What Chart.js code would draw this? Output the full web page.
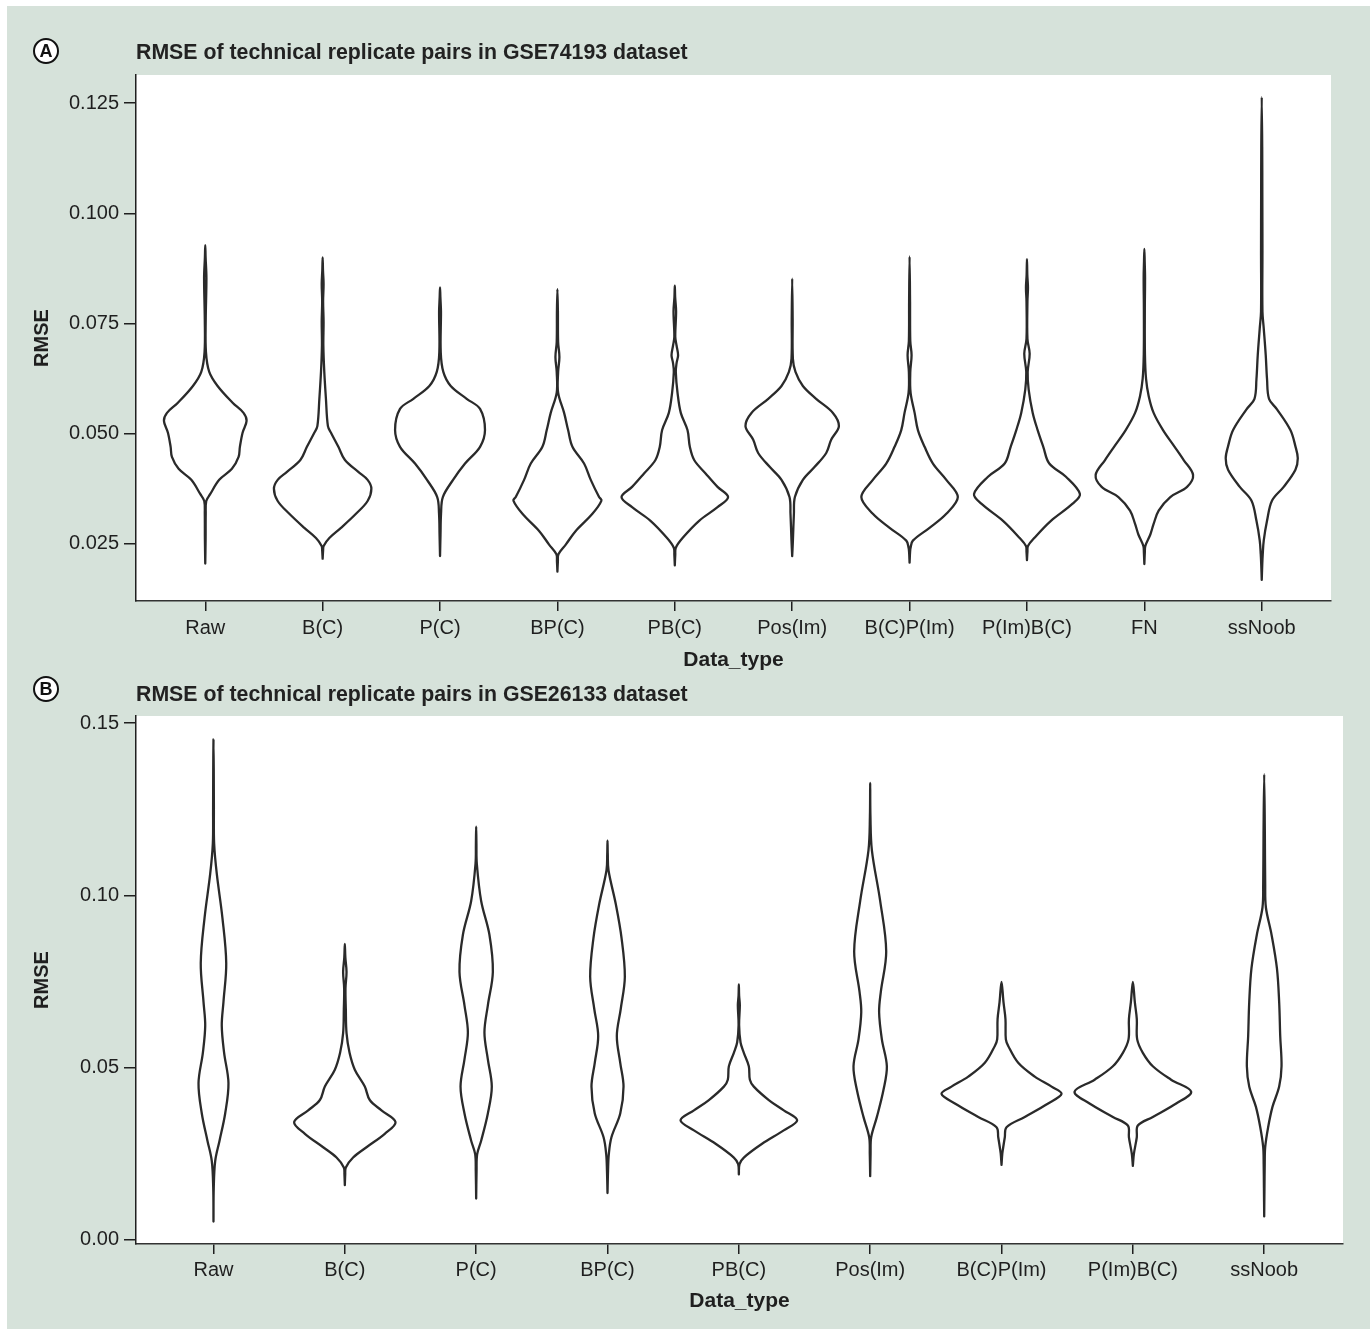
<!DOCTYPE html>
<html>
<head>
<meta charset="utf-8">
<script src="https://cdn.jsdelivr.net/npm/chart.js@4.4.1/dist/chart.umd.min.js"></script>
<style>
  body { margin:0; background:#ffffff; width:1370px; height:1329px; position:relative; overflow:hidden; }
  #bg { position:absolute; left:7px; top:6px; width:1363px; height:1323px; background:#d6e2da; }
  canvas { position:absolute; left:0; }
  .tag { position:absolute; box-sizing:border-box; width:26px; height:26px; border:2px solid #111; border-radius:50%;
         background:#fff; font:bold 18px "Liberation Sans", Arial, sans-serif; line-height:22px; text-align:center; color:#111; }
  .title { position:absolute; font:bold 21.3px "Liberation Sans", Arial, sans-serif; line-height:24px; color:#222; white-space:nowrap; }
</style>
</head>
<body>
<div id="bg"></div>
<canvas id="cA" width="1370" height="680" style="top:0px"></canvas>
<canvas id="cB" width="1370" height="649" style="top:680px"></canvas>
<div class="tag" style="left:33px;top:38px">A</div>
<div class="title" style="left:136px;top:40px">RMSE of technical replicate pairs in GSE74193 dataset</div>
<div class="tag" style="left:33px;top:676px">B</div>
<div class="title" style="left:136px;top:682px">RMSE of technical replicate pairs in GSE26133 dataset</div>
<script>
// ---------- DATA ----------
// Categories and tick labels
const catsA = ['Raw','B(C)','P(C)','BP(C)','PB(C)','Pos(Im)','B(C)P(Im)','P(Im)B(C)','FN','ssNoob'];
const catsB = ['Raw','B(C)','P(C)','BP(C)','PB(C)','Pos(Im)','B(C)P(Im)','P(Im)B(C)','ssNoob'];
const yTicksA = [0.025, 0.050, 0.075, 0.100, 0.125];
const yTicksB = [0.00, 0.05, 0.10, 0.15];

// Violin density profiles: [RMSE value, half-width as fraction of category spacing], bottom to top
// Panel A (GSE74193)
const A_Raw = [[0.0205,0],[0.0260,0.003],[0.0318,0.004],[0.0347,0.0085],[0.0363,0.043],[0.0395,0.119],[0.0420,0.227],[0.0447,0.284],[0.0470,0.295],[0.0502,0.318],[0.0529,0.352],[0.0547,0.326],[0.0570,0.233],[0.0608,0.105],[0.0640,0.034],[0.0685,0.006],[0.0760,0.004],[0.0853,0.010],[0.0900,0.003],[0.0928,0]];
const A_BC = [[0.0216,0],[0.0235,0.004],[0.0245,0.0085],[0.0263,0.057],[0.0286,0.156],[0.0318,0.284],[0.0347,0.383],[0.0375,0.415],[0.0395,0.383],[0.0413,0.304],[0.0440,0.190],[0.0470,0.134],[0.0502,0.071],[0.0517,0.045],[0.0579,0.028],[0.0640,0.014],[0.0700,0.006],[0.0754,0.008],[0.0800,0.004],[0.0840,0.008],[0.0870,0.003],[0.0900,0]];
const A_PC = [[0.0222,0],[0.0270,0.004],[0.0318,0.0085],[0.0356,0.024],[0.0395,0.111],[0.0432,0.213],[0.0470,0.341],[0.0508,0.383],[0.0556,0.341],[0.0579,0.227],[0.0608,0.091],[0.0640,0.028],[0.0685,0.006],[0.0777,0.008],[0.0810,0.003],[0.0832,0]];
const A_BPC = [[0.0187,0],[0.0210,0.004],[0.0226,0.0085],[0.0248,0.071],[0.0279,0.156],[0.0318,0.298],[0.0348,0.375],[0.0356,0.355],[0.0395,0.284],[0.0432,0.227],[0.0470,0.128],[0.0508,0.091],[0.0547,0.057],[0.0593,0.006],[0.0640,0.006],[0.0674,0.017],[0.0708,0.006],[0.0780,0.004],[0.0828,0]];
const A_PBC = [[0.0201,0],[0.0225,0.004],[0.0241,0.0085],[0.0263,0.066],[0.0302,0.207],[0.0333,0.364],[0.0356,0.454],[0.0379,0.364],[0.0409,0.264],[0.0440,0.165],[0.0470,0.128],[0.0508,0.108],[0.0547,0.051],[0.0593,0.023],[0.0640,0.0085],[0.0660,0.015],[0.0678,0.028],[0.0700,0.015],[0.0720,0.004],[0.0777,0.011],[0.0810,0.003],[0.0836,0]];
const A_PosIm = [[0.0222,0],[0.0257,0.006],[0.0318,0.0145],[0.0356,0.023],[0.0395,0.091],[0.0424,0.190],[0.0456,0.290],[0.0486,0.332],[0.0517,0.398],[0.0547,0.347],[0.0579,0.204],[0.0608,0.091],[0.0640,0.028],[0.0670,0.006],[0.0760,0.004],[0.0852,0]];
const A_BCPIm = [[0.0207,0],[0.0230,0.004],[0.0241,0.0085],[0.0257,0.028],[0.0286,0.170],[0.0318,0.313],[0.0356,0.411],[0.0395,0.313],[0.0432,0.199],[0.0470,0.128],[0.0508,0.071],[0.0547,0.043],[0.0593,0.0085],[0.0640,0.006],[0.0678,0.017],[0.0710,0.006],[0.0800,0.004],[0.0902,0]];
const A_PImBC = [[0.0213,0],[0.0232,0.004],[0.0245,0.0085],[0.0263,0.062],[0.0302,0.204],[0.0341,0.389],[0.0363,0.451],[0.0402,0.332],[0.0432,0.190],[0.0470,0.139],[0.0508,0.091],[0.0547,0.049],[0.0600,0.0145],[0.0640,0.006],[0.0681,0.023],[0.0715,0.004],[0.0800,0.004],[0.0831,0.0085],[0.0860,0.003],[0.0896,0]];
const A_FN = [[0.0204,0],[0.0230,0.004],[0.0245,0.0085],[0.0271,0.051],[0.0295,0.079],[0.0325,0.122],[0.0356,0.221],[0.0379,0.364],[0.0406,0.415],[0.0440,0.335],[0.0470,0.258],[0.0508,0.159],[0.0547,0.079],[0.0585,0.037],[0.0624,0.0145],[0.0680,0.005],[0.0780,0.004],[0.0854,0.006],[0.0890,0.003],[0.0919,0]];
const A_ssNoob = [[0.0168,0],[0.0200,0.004],[0.0226,0.0085],[0.0257,0.017],[0.0302,0.045],[0.0348,0.088],[0.0379,0.187],[0.0418,0.287],[0.0444,0.307],[0.0471,0.287],[0.0508,0.244],[0.0555,0.130],[0.0579,0.062],[0.0624,0.045],[0.0678,0.034],[0.0739,0.017],[0.0777,0.006],[0.0915,0.006],[0.1046,0.005],[0.1150,0.004],[0.1264,0]];

// Panel B (GSE26133)
const B_Raw = [[0.0053,0],[0.0151,0.002],[0.0229,0.013],[0.0288,0.046],[0.0367,0.089],[0.0455,0.114],[0.0543,0.081],[0.0622,0.063],[0.0691,0.076],[0.0803,0.097],[0.0935,0.068],[0.1063,0.025],[0.1151,0.005],[0.1250,0.003],[0.1364,0.002],[0.1453,0]];
const B_BC = [[0.0159,0],[0.0190,0.003],[0.0210,0.0076],[0.0239,0.063],[0.0269,0.165],[0.0308,0.304],[0.0342,0.386],[0.0376,0.279],[0.0406,0.190],[0.0445,0.152],[0.0494,0.076],[0.0543,0.036],[0.0600,0.013],[0.0670,0.0076],[0.0730,0.005],[0.0778,0.013],[0.0820,0.004],[0.0859,0]];
const B_PC = [[0.0120,0],[0.0200,0.003],[0.0249,0.0076],[0.0288,0.038],[0.0367,0.089],[0.0445,0.119],[0.0524,0.089],[0.0602,0.063],[0.0681,0.089],[0.0778,0.127],[0.0886,0.101],[0.0984,0.038],[0.1092,0.005],[0.1150,0.002],[0.1200,0]];
const B_BPC = [[0.0136,0],[0.0200,0.004],[0.0249,0.010],[0.0298,0.030],[0.0367,0.097],[0.0445,0.122],[0.0514,0.097],[0.0592,0.071],[0.0671,0.101],[0.0764,0.132],[0.0876,0.107],[0.0975,0.063],[0.1073,0.0076],[0.1120,0.002],[0.1159,0]];
const B_PBC = [[0.0190,0],[0.0220,0.005],[0.0239,0.038],[0.0279,0.177],[0.0318,0.342],[0.0347,0.444],[0.0376,0.342],[0.0406,0.228],[0.0445,0.114],[0.0465,0.084],[0.0504,0.076],[0.0543,0.038],[0.0573,0.013],[0.0624,0.002],[0.0681,0.0076],[0.0710,0.002],[0.0742,0]];
const B_PosIm = [[0.0185,0],[0.0250,0.003],[0.0298,0.0076],[0.0357,0.051],[0.0435,0.101],[0.0504,0.127],[0.0582,0.089],[0.0661,0.068],[0.0720,0.081],[0.0837,0.122],[0.0984,0.076],[0.1131,0.013],[0.1229,0.002],[0.1327,0]];
const B_BCPIm = [[0.0218,0],[0.0250,0.006],[0.0269,0.013],[0.0298,0.025],[0.0327,0.038],[0.0357,0.177],[0.0396,0.355],[0.0424,0.457],[0.0445,0.381],[0.0474,0.253],[0.0514,0.127],[0.0563,0.051],[0.0582,0.033],[0.0641,0.030],[0.0690,0.015],[0.0749,0]];
const B_PImBC = [[0.0215,0],[0.0249,0.0076],[0.0298,0.030],[0.0332,0.038],[0.0357,0.152],[0.0396,0.330],[0.0430,0.444],[0.0465,0.291],[0.0504,0.152],[0.0543,0.076],[0.0582,0.033],[0.0641,0.030],[0.0690,0.015],[0.0749,0]];
const B_ssNoob = [[0.0068,0],[0.0150,0.002],[0.0220,0.004],[0.0269,0.0076],[0.0327,0.030],[0.0386,0.063],[0.0445,0.114],[0.0504,0.132],[0.0592,0.122],[0.0690,0.114],[0.0788,0.097],[0.0886,0.056],[0.0965,0.013],[0.1033,0.0076],[0.1181,0.005],[0.1352,0]];

const violinsA = [A_Raw, A_BC, A_PC, A_BPC, A_PBC, A_PosIm, A_BCPIm, A_PImBC, A_FN, A_ssNoob];
const violinsB = [B_Raw, B_BC, B_PC, B_BPC, B_PBC, B_PosIm, B_BCPIm, B_PImBC, B_ssNoob];

// ---------- BUILD ----------
const FONT = '"Liberation Sans", Arial, Helvetica, sans-serif';
const INK = '#1f1f1f';
Chart.defaults.font.family = FONT;

function outline(profile, i) {
  const right = profile.map(([y, w]) => ({ x: i + w, y }));
  const left = profile.slice().reverse().slice(1).map(([y, w]) => ({ x: i - w, y }));
  return right.concat(left);
}
function datasetsFor(violins) {
  return violins.map((p, i) => ({
    data: outline(p, i),
    showLine: true,
    fill: false,
    borderColor: '#2a2a2a',
    borderWidth: 2.3,
    tension: 0.35,
    pointRadius: 0,
    pointHoverRadius: 0,
    borderJoinStyle: 'round',
    borderCapStyle: 'round'
  }));
}
const whiteArea = {
  id: 'whiteArea',
  beforeDraw(chart) {
    const { ctx, chartArea: a } = chart;
    ctx.save();
    ctx.fillStyle = '#ffffff';
    ctx.fillRect(a.left, a.top, a.right - a.left, a.bottom - a.top);
    ctx.restore();
  }
};

function makeChart(id, cats, violins, yTicks, cfg) {
  return new Chart(document.getElementById(id), {
    type: 'scatter',
    data: { datasets: datasetsFor(violins) },
    plugins: [whiteArea],
    options: {
      responsive: false,
      devicePixelRatio: 1,
      animation: false,
      events: [],
      layout: { padding: { top: cfg.padTop, right: cfg.padRight, left: 0, bottom: 0 } },
      plugins: { legend: { display: false }, tooltip: { enabled: false }, title: { display: false } },
      scales: {
        x: {
          type: 'linear', min: cfg.xMin, max: cfg.xMax,
          afterBuildTicks: s => { s.ticks = cats.map((_, i) => ({ value: i })); },
          afterFit: s => { s.height = cfg.xHeight; },
          grid: { drawOnChartArea: false, drawTicks: true, tickLength: 10, color: INK, lineWidth: 1.5 },
          border: { display: true, color: '#333', width: 1.5 },
          ticks: { padding: cfg.xTickPad, color: INK, maxRotation: 0, autoSkip: false,
                   font: { size: 20 }, callback: (v, idx) => cats[idx] },
          title: { display: true, text: 'Data_type', color: INK,
                   font: { size: 21, weight: 'bold' }, padding: { top: 0, bottom: cfg.xTitlePad } }
        },
        y: {
          type: 'linear', min: cfg.yMin, max: cfg.yMax,
          afterBuildTicks: s => { s.ticks = yTicks.map(v => ({ value: v })); },
          afterFit: s => { s.width = 136; },
          grid: { drawOnChartArea: false, drawTicks: true, tickLength: 12, color: INK, lineWidth: 1.5 },
          border: { display: true, color: INK, width: 1.5 },
          ticks: { padding: 5, color: INK, font: { size: 20 }, callback: v => v.toFixed(cfg.dec) },
          title: { display: true, text: 'RMSE', color: INK,
                   font: { size: 20, weight: 'bold' }, padding: { top: 30, bottom: 0 } }
        }
      }
    }
  });
}

makeChart('cA', catsA, violinsA, yTicksA, {
  padTop: 75, padRight: 39, xHeight: 79, xTickPad: 5, xTitlePad: 7,
  xMin: -0.59, xMax: 9.59, yMin: 0.0120, yMax: 0.1314, dec: 3
});
makeChart('cB', catsB, violinsB, yTicksB, {
  padTop: 36, padRight: 27, xHeight: 85, xTickPad: 4, xTitlePad: 15,
  xMin: -0.59, xMax: 8.60, yMin: -0.0012, yMax: 0.1521, dec: 2
});
</script>
</body>
</html>
